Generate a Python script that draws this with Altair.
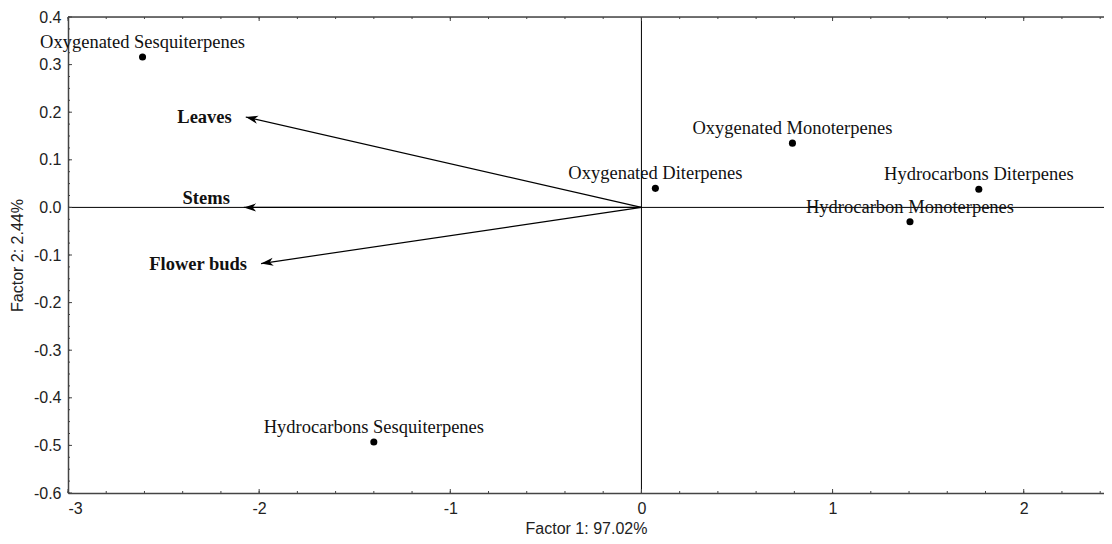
import math
import altair as alt
import pandas as pd

# ---- data ----
var_names = [
    "Oxygenated Sesquiterpenes",
    "Hydrocarbons Sesquiterpenes",
    "Oxygenated Diterpenes",
    "Oxygenated Monoterpenes",
    "Hydrocarbons Diterpenes",
    "Hydrocarbon Monoterpenes",
]
var_f1 = [-2.61, -1.40, 0.073, 0.79, 1.765, 1.405]
var_f2 = [0.316, -0.493, 0.040, 0.135, 0.038, -0.030]

organ_names = ["Leaves", "Stems", "Flower buds"]
organ_f1 = [-2.07, -2.08, -1.99]
organ_f2 = [0.19, 0.0, -0.118]

x_major = [-3, -2, -1, 0, 1, 2]
y_major = [-0.6, -0.5, -0.4, -0.3, -0.2, -0.1, 0.0, 0.1, 0.2, 0.3, 0.4]
x_minor = [round(-3 + 0.2 * i, 2) for i in range(28)]
y_minor = [round(-0.6 + 0.025 * i, 3) for i in range(41)]

x_title = "Factor 1: 97.02%"
y_title = "Factor 2:  2.44%"

# ---- layout ----
W, H = 1036, 476
XDOM = [-3, 2.42]
YDOM = [-0.6, 0.4]

AX = "#444444"
SANS = "Liberation Sans"
SERIF = "Liberation Serif"

xs = alt.Scale(domain=XDOM, nice=False, zero=False)
ys = alt.Scale(domain=YDOM, nice=False, zero=False)

HYPHEN = "replace(datum.label, '\u2212', '-')"

x_axis = alt.Axis(values=x_major, title=x_title, ticks=False, grid=False,
                  domainColor=AX, domainWidth=1.5, labelFont=SANS,
                  labelFontSize=16, labelColor="#222", labelPadding=7,
                  labelExpr=HYPHEN,
                  titleFont=SANS, titleFontSize=16, titleFontWeight="normal",
                  titleColor="#222", titlePadding=4, format="d")
y_axis = alt.Axis(values=y_major, title=y_title, ticks=False, grid=False,
                  domainColor=AX, domainWidth=1.5, labelFont=SANS,
                  labelFontSize=16, labelColor="#222", labelPadding=7,
                  labelExpr=HYPHEN,
                  titleFont=SANS, titleFontSize=16, titleFontWeight="normal",
                  titleColor="#222", titlePadding=8, format=".1f")


def X(f):
    return alt.X(f, type="quantitative", scale=xs, axis=x_axis)


def Y(f):
    return alt.Y(f, type="quantitative", scale=ys, axis=y_axis)


vars_df = pd.DataFrame({"name": var_names, "f1": var_f1, "f2": var_f2})

# arrowhead angle in screen space
px_per_x = W / (XDOM[1] - XDOM[0])
px_per_y = H / (YDOM[1] - YDOM[0])
angles = []
for a, b in zip(organ_f1, organ_f2):
    ang = math.degrees(math.atan2(b * px_per_y, -a * px_per_x))
    angles.append(ang % 360)
org_df = pd.DataFrame({"name": organ_names, "f1": organ_f1, "f2": organ_f2,
                       "ox": [0.0] * 3, "oy": [0.0] * 3, "ang": angles})

xmaj_df = pd.DataFrame({"f1": x_major})
xmin_df = pd.DataFrame({"f1": x_minor})
ymaj_df = pd.DataFrame({"f2": y_major})
ymin_df = pd.DataFrame({"f2": y_minor})

# center cross lines
hline = alt.Chart(pd.DataFrame({"f2": [0.0]})).mark_rule(color="black", strokeWidth=1).encode(
    y=Y("f2"), x=alt.value(0), x2=alt.value(W))
vline = alt.Chart(pd.DataFrame({"f1": [0.0]})).mark_rule(color="black", strokeWidth=1).encode(
    x=X("f1"), y=alt.value(0), y2=alt.value(H))
top_border = alt.Chart(pd.DataFrame({"f2": [YDOM[1]]})).mark_rule(color=AX, strokeWidth=1.5).encode(
    y=Y("f2"), x=alt.value(0), x2=alt.value(W))


# inward ticks
def xticks(df, length, at, sign):
    return alt.Chart(df).mark_rule(color=AX, strokeWidth=1, y2Offset=sign * length).encode(
        x=X("f1"), y=alt.datum(at, scale=ys), y2=alt.datum(at))


def yticks(df, length):
    return alt.Chart(df).mark_rule(color=AX, strokeWidth=1, x2Offset=length).encode(
        y=Y("f2"), x=alt.datum(XDOM[0], scale=xs), x2=alt.datum(XDOM[0]))


ticks = [
    xticks(xmin_df, 2, YDOM[0], -1), xticks(xmaj_df, 4, YDOM[0], -1),
    xticks(xmin_df, 2, YDOM[1], 1), xticks(xmaj_df, 4, YDOM[1], 1),
    yticks(ymin_df, 2), yticks(ymaj_df, 4),
]

# arrows
arrow_lines = alt.Chart(org_df).mark_rule(color="black", strokeWidth=1.2).encode(
    x=X("ox"), y=Y("oy"), x2="f1", y2="f2")
arrow_heads = alt.Chart(org_df).mark_point(
    shape="M 0 0 L 1 -0.33 L 0.72 0 L 1 0.33 Z", size=600, filled=True,
    color="black", opacity=1, strokeWidth=0).encode(
    x=X("f1"), y=Y("f2"), angle=alt.Angle("ang:Q", scale=None))
organ_labels = alt.Chart(org_df).transform_filter(alt.datum.name != "Stems").mark_text(
    font=SERIF, fontSize=18.5, fontWeight="bold", align="right", baseline="middle",
    dx=-14, color="#111").encode(x=X("f1"), y=Y("f2"), text="name:N")
stems_label = alt.Chart(org_df).transform_filter(alt.datum.name == "Stems").mark_text(
    font=SERIF, fontSize=18.5, fontWeight="bold", align="right", baseline="middle",
    dx=-14, dy=-9, color="#111").encode(x=X("f1"), y=Y("f2"), text="name:N")

# variable points
pts = alt.Chart(vars_df).mark_circle(size=50, color="black", opacity=1).encode(
    x=X("f1"), y=Y("f2"))
pt_labels = alt.Chart(vars_df).mark_text(
    font=SERIF, fontSize=18.5, align="center", baseline="alphabetic", dy=-9,
    color="#111").encode(x=X("f1"), y=Y("f2"), text="name:N")

chart = alt.layer(
    hline, vline, top_border, *ticks, arrow_lines, arrow_heads,
    organ_labels, stems_label, pts, pt_labels,
).properties(
    width=W, height=H,
    autosize=alt.AutoSizeParams(type="none"),
    padding={"left": 60, "top": 9, "right": 0, "bottom": 50},
).configure_view(stroke=None).configure(background="white")

chart.save("out.html", embed_options={"renderer": "svg", "actions": False})
